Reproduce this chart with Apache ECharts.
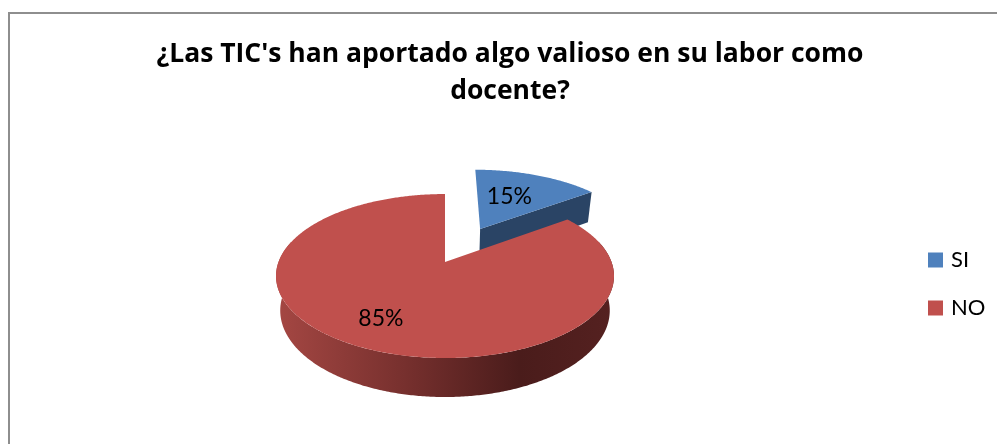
<!DOCTYPE html>
<html>
<head>
<meta charset="utf-8">
<style>html,body{margin:0;padding:0;background:#fff;overflow:hidden}#c{width:997px;height:444px}</style>
<script src="https://cdn.jsdelivr.net/npm/echarts@6/dist/echarts.min.js"></script>
</head>
<body>
<div id="c"></div>
<script>
var titleText = "¿Las TIC's han aportado algo valioso en su labor como\ndocente?";
var categories = ["SI", "NO"];
var percentages = [15, 85];
var sliceColors = ["#4F81BD", "#C0504D"];
var cutFaceColors = ["#2A4465", "#6E2C2A"];

// Oblique-view projection of the pie plane
var view = {cx: 445, cy: 262, a: 166.5, b: 79.6, k: 0.171, fx: 0.975, fy: 1.054, drop: 33.8, explode: 0.5};

function project(s, c, lower) {
  var w = 1 + view.k * c;
  var x = view.a * s / w, y = -view.b * c / w;
  if (lower) { x *= view.fx; y = y * view.fy + view.drop; }
  return [view.cx + x, view.cy + y];
}
function angleOf(i) {
  var total = percentages.reduce(function (p, v) { return p + v; }, 0), sum = 0;
  for (var j = 0; j < i; j++) sum += percentages[j];
  return [sum / total * 2 * Math.PI, (sum + percentages[i]) / total * 2 * Math.PI];
}
function rim(a0, a1, ox, oy, lower) {
  var pts = [], n = Math.max(2, Math.round((a1 - a0) / 0.01));
  for (var i = 0; i <= n; i++) {
    var t = a0 + (a1 - a0) * i / n;
    pts.push(project(ox + Math.sin(t), oy + Math.cos(t), lower));
  }
  return pts;
}
function makeRender(index, exploded, labelRadius, labelShift) {
  return function (params, api) {
    var ang = angleOf(index), a0 = ang[0], a1 = ang[1], mid = (a0 + a1) / 2;
    var e = exploded ? view.explode : 0;
    var ox = e * Math.sin(mid), oy = e * Math.cos(mid);
    var kids = [];
    var apex = project(ox, oy, false), apexLow = project(ox, oy, true);
    if (exploded) {
      // straight cut face that looks toward the viewer
      var r = project(ox + Math.sin(a1), oy + Math.cos(a1), false);
      var rl = project(ox + Math.sin(a1), oy + Math.cos(a1), true);
      kids.push({type: 'polygon', shape: {points: [apex, r, rl, apexLow]},
        style: {fill: cutFaceColors[index]}});
    } else {
      // curved outer wall on the visible front of the pie
      var w0 = 75 * Math.PI / 180, w1 = 285 * Math.PI / 180;
      var top = rim(w0, w1, ox, oy, false), bottom = rim(w0, w1, ox, oy, true).reverse();
      kids.push({type: 'polygon', shape: {points: top.concat(bottom)},
        style: {fill: {type: 'linear', x: 1, y: 0, x2: 0, y2: 0, colorStops: [
          {offset: 0, color: '#552120'},
          {offset: 0.28, color: '#4A1C1B'},
          {offset: 0.62, color: '#77302E'},
          {offset: 1, color: '#A54743'}
        ]}}});
    }
    var face = [apex].concat(rim(a0, a1, ox, oy, false));
    kids.push({type: 'polygon', shape: {points: face}, style: {fill: sliceColors[index]}});
    var lp = project(ox + labelRadius * Math.sin(mid), oy + labelRadius * Math.cos(mid), false);
    kids.push({type: 'text', x: lp[0] + labelShift[0], y: lp[1] + labelShift[1], style: {
      text: api.value(0) + '%', font: '23px Lato', fill: '#000', align: 'center', verticalAlign: 'middle'}});
    return {type: 'group', children: kids};
  };
}

var chart = echarts.init(document.getElementById('c'), null, {renderer: 'canvas'});
chart.setOption({
  animation: false,
  backgroundColor: '#fff',
  title: {text: titleText, left: 505, top: 31, textAlign: 'center',
    textStyle: {fontFamily: 'Open Sans', fontWeight: 'bold', fontSize: 26.5, lineHeight: 37, color: '#000'}},
  legend: {orient: 'vertical', left: 923, top: 244, itemWidth: 15, itemHeight: 15, itemGap: 26, icon: 'rect',
    selectedMode: false, data: categories,
    textStyle: {fontFamily: 'Lato', fontSize: 22, color: '#000', padding: [0, 0, 0, 3]}},
  graphic: [{type: 'rect', silent: true, shape: {x: 9, y: 13, width: 1100, height: 600},
    style: {fill: 'none', stroke: '#8E8E8E', lineWidth: 2}}],
  series: [
    {type: 'custom', name: categories[0], coordinateSystem: 'none', itemStyle: {color: sliceColors[0]},
      data: [percentages[0]], renderItem: makeRender(0, true, 0.55, [-4, -1]), z: 2},
    {type: 'custom', name: categories[1], coordinateSystem: 'none', itemStyle: {color: sliceColors[1]},
      data: [percentages[1]], renderItem: makeRender(1, false, 0.73, [-2, -2]), z: 3}
  ]
});
</script>
</body>
</html>
